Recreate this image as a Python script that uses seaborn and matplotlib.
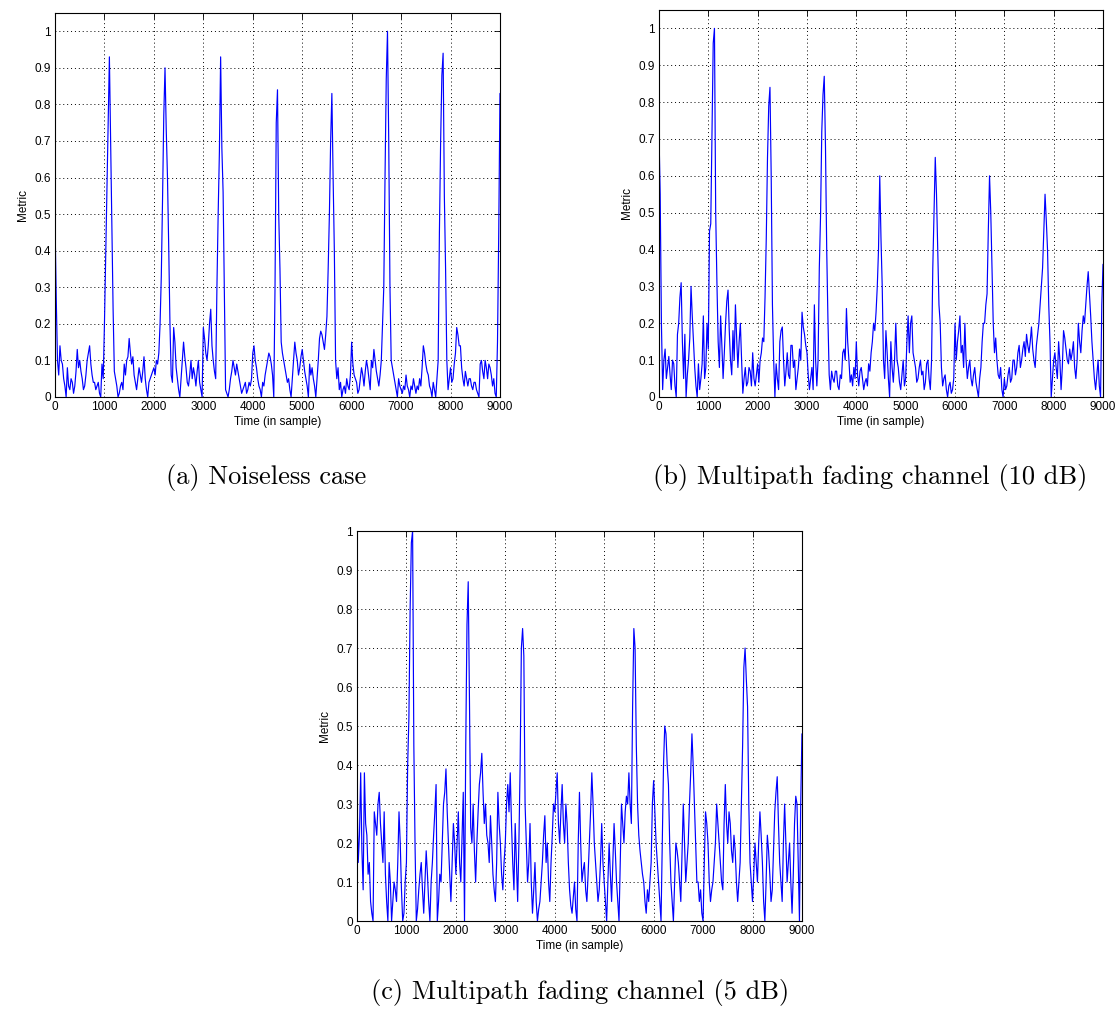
import numpy as np
import matplotlib
matplotlib.use("Agg")
import matplotlib.pyplot as plt
import seaborn as sns

# sample spacing of the values
step = 25

# (a) noiseless case, one value every 25 samples, 0..9000 (20 per row = 500 samples)
metric_a = [
    0.48, 0.27, 0.10, 0.06, 0.14, 0.10, 0.09, 0.05, 0.03, 0.00, 0.08, 0.03, 0.02, 0.05, 0.04, 0.01, 0.03, 0.07, 0.13, 0.08,
    0.10, 0.07, 0.05, 0.02, 0.03, 0.06, 0.10, 0.12, 0.14, 0.09, 0.06, 0.04, 0.04, 0.02, 0.03, 0.04, 0.01, 0.00, 0.09, 0.05,
    0.20, 0.38, 0.55, 0.73, 0.93, 0.70, 0.47, 0.24, 0.07, 0.05, 0.03, 0.00, 0.01, 0.03, 0.04, 0.02, 0.09, 0.06, 0.10, 0.11,
    0.16, 0.12, 0.09, 0.11, 0.06, 0.04, 0.02, 0.05, 0.08, 0.06, 0.04, 0.07, 0.11, 0.05, 0.02, 0.00, 0.04, 0.05, 0.06, 0.07,
    0.08, 0.06, 0.10, 0.09, 0.12, 0.20, 0.33, 0.54, 0.77, 0.90, 0.73, 0.60, 0.41, 0.20, 0.06, 0.04, 0.19, 0.15, 0.08, 0.05,
    0.02, 0.00, 0.05, 0.10, 0.15, 0.11, 0.08, 0.04, 0.03, 0.06, 0.10, 0.05, 0.08, 0.06, 0.03, 0.07, 0.10, 0.04, 0.02, 0.00,
    0.19, 0.16, 0.12, 0.10, 0.14, 0.20, 0.24, 0.14, 0.10, 0.07, 0.05, 0.30, 0.50, 0.67, 0.93, 0.68, 0.56, 0.30, 0.02, 0.01,
    0.00, 0.02, 0.05, 0.07, 0.10, 0.08, 0.06, 0.09, 0.07, 0.05, 0.03, 0.01, 0.02, 0.03, 0.04, 0.01, 0.02, 0.04, 0.03, 0.05,
    0.12, 0.14, 0.10, 0.08, 0.05, 0.03, 0.02, 0.00, 0.04, 0.03, 0.06, 0.08, 0.10, 0.12, 0.11, 0.09, 0.06, 0.00, 0.30, 0.75,
    0.84, 0.50, 0.35, 0.15, 0.12, 0.10, 0.08, 0.06, 0.04, 0.05, 0.02, 0.00, 0.05, 0.10, 0.15, 0.12, 0.10, 0.06, 0.08, 0.11,
    0.13, 0.10, 0.07, 0.05, 0.03, 0.00, 0.09, 0.06, 0.08, 0.05, 0.03, 0.00, 0.05, 0.10, 0.16, 0.18, 0.17, 0.15, 0.13, 0.17,
    0.22, 0.35, 0.50, 0.70, 0.83, 0.60, 0.40, 0.10, 0.05, 0.08, 0.02, 0.04, 0.00, 0.02, 0.03, 0.01, 0.05, 0.03, 0.02, 0.06,
    0.15, 0.09, 0.06, 0.05, 0.04, 0.01, 0.02, 0.05, 0.08, 0.06, 0.03, 0.07, 0.10, 0.08, 0.05, 0.02, 0.10, 0.08, 0.13, 0.10,
    0.07, 0.05, 0.03, 0.06, 0.10, 0.20, 0.30, 0.60, 0.87, 1.00, 0.70, 0.30, 0.10, 0.08, 0.06, 0.04, 0.02, 0.00, 0.05, 0.03,
    0.02, 0.01, 0.03, 0.02, 0.06, 0.03, 0.02, 0.00, 0.03, 0.02, 0.05, 0.03, 0.01, 0.03, 0.02, 0.05, 0.03, 0.08, 0.14, 0.12,
    0.09, 0.07, 0.06, 0.03, 0.02, 0.00, 0.04, 0.02, 0.00, 0.05, 0.10, 0.45, 0.70, 0.88, 0.94, 0.55, 0.35, 0.10, 0.02, 0.05,
    0.08, 0.04, 0.05, 0.09, 0.12, 0.19, 0.17, 0.14, 0.14, 0.08, 0.05, 0.03, 0.07, 0.05, 0.03, 0.05, 0.05, 0.03, 0.02, 0.04,
    0.04, 0.02, 0.01, 0.00, 0.09, 0.10, 0.07, 0.05, 0.10, 0.08, 0.05, 0.09, 0.08, 0.06, 0.03, 0.05, 0.01, 0.00, 0.15, 0.45,
    0.83,
]

# (b) multipath fading channel, 10 dB
metric_b = [
    0.72, 0.55, 0.20, 0.02, 0.10, 0.13, 0.05, 0.08, 0.11, 0.06, 0.02, 0.10, 0.09, 0.03, 0.00, 0.17, 0.20, 0.27, 0.31, 0.15,
    0.05, 0.17, 0.00, 0.06, 0.10, 0.16, 0.30, 0.22, 0.15, 0.08, 0.03, 0.00, 0.09, 0.02, 0.05, 0.09, 0.22, 0.05, 0.08, 0.20,
    0.13, 0.45, 0.47, 0.72, 0.96, 1.00, 0.50, 0.31, 0.15, 0.08, 0.22, 0.14, 0.05, 0.12, 0.20, 0.26, 0.29, 0.18, 0.10, 0.06,
    0.18, 0.10, 0.25, 0.16, 0.08, 0.15, 0.20, 0.10, 0.01, 0.05, 0.08, 0.03, 0.04, 0.08, 0.07, 0.03, 0.12, 0.05, 0.03, 0.06,
    0.09, 0.04, 0.10, 0.12, 0.16, 0.15, 0.27, 0.43, 0.65, 0.79, 0.84, 0.60, 0.25, 0.10, 0.00, 0.09, 0.05, 0.02, 0.15, 0.18,
    0.19, 0.10, 0.03, 0.07, 0.12, 0.06, 0.05, 0.14, 0.14, 0.08, 0.10, 0.02, 0.05, 0.08, 0.13, 0.10, 0.23, 0.19, 0.17, 0.14,
    0.12, 0.06, 0.02, 0.05, 0.08, 0.02, 0.25, 0.10, 0.03, 0.10, 0.35, 0.49, 0.72, 0.82, 0.87, 0.68, 0.40, 0.21, 0.06, 0.02,
    0.07, 0.05, 0.04, 0.07, 0.07, 0.03, 0.02, 0.06, 0.05, 0.12, 0.13, 0.10, 0.24, 0.15, 0.10, 0.04, 0.06, 0.03, 0.08, 0.05,
    0.15, 0.06, 0.03, 0.07, 0.08, 0.05, 0.02, 0.04, 0.05, 0.03, 0.09, 0.07, 0.12, 0.15, 0.20, 0.18, 0.23, 0.30, 0.40, 0.60,
    0.43, 0.30, 0.10, 0.05, 0.18, 0.12, 0.05, 0.00, 0.15, 0.08, 0.04, 0.10, 0.20, 0.10, 0.08, 0.04, 0.02, 0.06, 0.10, 0.03,
    0.05, 0.15, 0.22, 0.12, 0.20, 0.22, 0.12, 0.10, 0.08, 0.04, 0.05, 0.08, 0.10, 0.06, 0.07, 0.02, 0.04, 0.09, 0.10, 0.05,
    0.02, 0.10, 0.35, 0.50, 0.65, 0.55, 0.40, 0.25, 0.20, 0.08, 0.03, 0.05, 0.06, 0.02, 0.00, 0.03, 0.04, 0.01, 0.02, 0.05,
    0.20, 0.10, 0.15, 0.18, 0.22, 0.12, 0.14, 0.08, 0.20, 0.10, 0.05, 0.08, 0.10, 0.05, 0.03, 0.06, 0.08, 0.04, 0.02, 0.00,
    0.05, 0.08, 0.15, 0.20, 0.20, 0.25, 0.28, 0.45, 0.60, 0.50, 0.35, 0.20, 0.12, 0.16, 0.10, 0.06, 0.05, 0.08, 0.02, 0.00,
    0.05, 0.02, 0.03, 0.06, 0.08, 0.04, 0.05, 0.10, 0.10, 0.06, 0.08, 0.12, 0.14, 0.08, 0.10, 0.13, 0.15, 0.11, 0.17, 0.14,
    0.12, 0.15, 0.19, 0.13, 0.10, 0.08, 0.14, 0.17, 0.20, 0.25, 0.30, 0.35, 0.45, 0.55, 0.48, 0.40, 0.25, 0.15, 0.00, 0.05,
    0.10, 0.12, 0.08, 0.05, 0.15, 0.10, 0.02, 0.08, 0.18, 0.16, 0.13, 0.10, 0.09, 0.13, 0.10, 0.12, 0.15, 0.08, 0.05, 0.10,
    0.20, 0.15, 0.12, 0.18, 0.22, 0.20, 0.25, 0.30, 0.34, 0.28, 0.22, 0.15, 0.10, 0.05, 0.02, 0.06, 0.10, 0.03, 0.00, 0.25,
    0.36,
]

# (c) multipath fading channel, 5 dB
metric_c = [
    0.33, 0.15, 0.22, 0.38, 0.18, 0.08, 0.38, 0.25, 0.22, 0.12, 0.15, 0.05, 0.02, 0.00, 0.28, 0.25, 0.22, 0.30, 0.33, 0.25,
    0.20, 0.15, 0.28, 0.12, 0.05, 0.00, 0.15, 0.10, 0.00, 0.05, 0.10, 0.08, 0.05, 0.15, 0.28, 0.20, 0.08, 0.00, 0.02, 0.10,
    0.15, 0.40, 0.52, 0.80, 0.97, 1.00, 0.45, 0.19, 0.00, 0.03, 0.08, 0.12, 0.15, 0.08, 0.02, 0.10, 0.18, 0.12, 0.05, 0.00,
    0.10, 0.15, 0.22, 0.28, 0.35, 0.00, 0.05, 0.12, 0.10, 0.20, 0.30, 0.33, 0.39, 0.28, 0.20, 0.12, 0.05, 0.15, 0.25, 0.20,
    0.12, 0.20, 0.28, 0.15, 0.10, 0.22, 0.33, 0.00, 0.45, 0.76, 0.87, 0.57, 0.24, 0.20, 0.30, 0.18, 0.10, 0.20, 0.28, 0.35,
    0.38, 0.43, 0.33, 0.25, 0.30, 0.22, 0.20, 0.15, 0.27, 0.20, 0.12, 0.08, 0.05, 0.15, 0.33, 0.25, 0.20, 0.12, 0.08, 0.15,
    0.20, 0.30, 0.35, 0.28, 0.38, 0.25, 0.15, 0.08, 0.25, 0.15, 0.05, 0.20, 0.40, 0.70, 0.75, 0.68, 0.30, 0.20, 0.10, 0.15,
    0.25, 0.10, 0.02, 0.08, 0.15, 0.05, 0.00, 0.03, 0.05, 0.10, 0.15, 0.22, 0.27, 0.15, 0.20, 0.10, 0.05, 0.15, 0.22, 0.30,
    0.28, 0.33, 0.38, 0.25, 0.20, 0.28, 0.35, 0.25, 0.20, 0.30, 0.25, 0.15, 0.08, 0.04, 0.02, 0.06, 0.10, 0.03, 0.00, 0.20,
    0.33, 0.20, 0.10, 0.13, 0.15, 0.08, 0.05, 0.12, 0.20, 0.28, 0.38, 0.30, 0.20, 0.15, 0.10, 0.05, 0.08, 0.15, 0.25, 0.15,
    0.10, 0.05, 0.00, 0.10, 0.20, 0.12, 0.05, 0.15, 0.25, 0.18, 0.10, 0.05, 0.00, 0.15, 0.30, 0.25, 0.20, 0.28, 0.32, 0.30,
    0.38, 0.30, 0.25, 0.55, 0.75, 0.70, 0.45, 0.30, 0.22, 0.18, 0.15, 0.12, 0.10, 0.05, 0.02, 0.08, 0.05, 0.10, 0.15, 0.30,
    0.36, 0.28, 0.20, 0.15, 0.10, 0.05, 0.00, 0.20, 0.40, 0.50, 0.48, 0.40, 0.35, 0.20, 0.10, 0.05, 0.00, 0.10, 0.20, 0.18,
    0.15, 0.10, 0.05, 0.18, 0.30, 0.20, 0.10, 0.15, 0.20, 0.30, 0.38, 0.48, 0.40, 0.30, 0.20, 0.10, 0.10, 0.05, 0.08, 0.02,
    0.00, 0.15, 0.28, 0.25, 0.20, 0.10, 0.05, 0.08, 0.10, 0.15, 0.20, 0.30, 0.25, 0.20, 0.15, 0.10, 0.08, 0.25, 0.35, 0.25,
    0.20, 0.28, 0.25, 0.18, 0.15, 0.22, 0.18, 0.10, 0.05, 0.10, 0.15, 0.30, 0.45, 0.65, 0.70, 0.62, 0.55, 0.30, 0.15, 0.10,
    0.05, 0.12, 0.20, 0.15, 0.10, 0.20, 0.28, 0.22, 0.15, 0.05, 0.00, 0.10, 0.22, 0.18, 0.12, 0.05, 0.08, 0.18, 0.28, 0.33,
    0.37, 0.25, 0.15, 0.10, 0.05, 0.20, 0.30, 0.20, 0.10, 0.15, 0.20, 0.10, 0.02, 0.12, 0.25, 0.32, 0.30, 0.15, 0.00, 0.30,
    0.48,
]

captions = ["(a) Noiseless case",
            "(b) Multipath fading channel (10 dB)",
            "(c) Multipath fading channel (5 dB)"]
x_ticks = list(range(0, 9001, 1000))
y_ticks = [0, 0.1, 0.2, 0.3, 0.4, 0.5, 0.6, 0.7, 0.8, 0.9, 1]

sns.set_style("white")
plt.rcParams['font.family'] = ['Liberation Sans', 'DejaVu Sans']
plt.rcParams['text.color'] = 'black'
plt.rcParams['axes.labelcolor'] = 'black'
plt.rcParams['xtick.color'] = 'black'
plt.rcParams['ytick.color'] = 'black'

fig = plt.figure(figsize=(11.18, 10.14), dpi=100)

# axes boxes in figure fractions: left, bottom, width, height
boxes = [[0.0492, 0.6085, 0.398, 0.3787],
         [0.5894, 0.6085, 0.3972, 0.3817],
         [0.3193, 0.0917, 0.398, 0.3846]]
ytops = [1.05, 1.05, 1.0]
caption_pos = [(0.238, 0.529), (0.778, 0.529), (0.519, 0.021)]

for metric, box, ytop, cap, cpos in zip([metric_a, metric_b, metric_c], boxes,
                                        ytops, captions, caption_pos):
    ax = fig.add_axes(box)
    t = np.arange(len(metric)) * step
    sns.lineplot(x=t, y=metric, ax=ax, color='#0000ff', linewidth=0.85,
                 estimator=None)
    ax.set_xlim(0, 9000)
    ax.set_ylim(0, ytop)
    ax.set_xticks(x_ticks)
    ax.set_yticks(y_ticks)
    ax.set_yticklabels(['%g' % v for v in y_ticks])
    ax.set_xlabel("Time (in sample)", fontsize=8.5, labelpad=2)
    ax.set_ylabel("Metric", fontsize=8.5, labelpad=4)
    ax.grid(True, linestyle=(0, (1, 3)), color='black', linewidth=0.7)
    ax.tick_params(direction='in', top=True, right=True, length=4,
                   width=0.6, labelsize=8.5, pad=3)
    for s in ax.spines.values():
        s.set_color('black')
        s.set_linewidth(0.8)
    fig.text(cpos[0], cpos[1], cap, family='cmr10', fontsize=19,
             color='black', ha='center', va='center')

fig.savefig("out.png", dpi=100)
